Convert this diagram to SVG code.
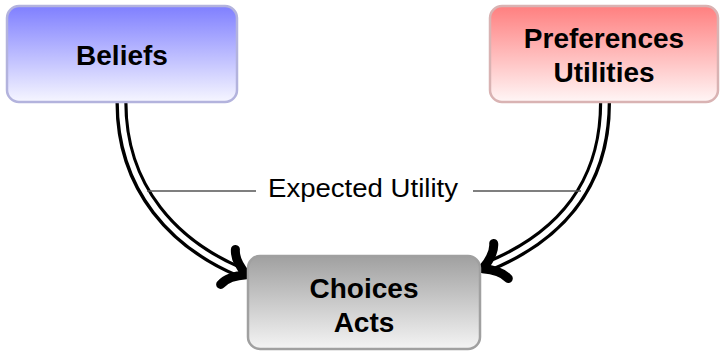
<svg xmlns="http://www.w3.org/2000/svg" width="720" height="352" viewBox="0 0 720 352">
  <defs>
    <linearGradient id="gBlue" x1="0" y1="0" x2="0" y2="1">
      <stop offset="0" stop-color="#7f7fff"/>
      <stop offset="1" stop-color="#f6f6ff"/>
    </linearGradient>
    <linearGradient id="gRed" x1="0" y1="0" x2="0" y2="1">
      <stop offset="0" stop-color="#ff7f7f"/>
      <stop offset="1" stop-color="#fff6f6"/>
    </linearGradient>
    <linearGradient id="gGray" x1="0" y1="0" x2="0" y2="1">
      <stop offset="0" stop-color="#a0a0a0"/>
      <stop offset="1" stop-color="#f4f4f4"/>
    </linearGradient>
    <!-- heavy curved arrowhead, tip pointing along +x, line end at origin -->
    <path id="head" d="M-13,-19 C-10,-10 -1,-4 7,0 C-1,4 -10,10 -13,19"
          fill="none" stroke="#000" stroke-width="9" stroke-linecap="round" stroke-linejoin="round"/>
  </defs>
  <style>
    .box { stroke-width: 2.5; }
    .label { font-family: "Liberation Sans", Arial, sans-serif; font-weight: bold; font-size: 28px; fill: #000; text-anchor: middle; }
    .outer { fill: none; stroke: #000; stroke-width: 12; }
    .inner { fill: none; stroke: #fff; stroke-width: 5.5; }
    .rule { stroke: #555; stroke-width: 1.3; }
    .note { font-family: "Liberation Sans", Arial, sans-serif; font-size: 25px; fill: #000; }
  </style>

  <!-- connectors: double-stroked arrows into the bottom node -->
  <g id="connectors">
    <path class="outer" d="M121.5,103 C121.5,190 176,245 240,272"/>
    <path class="inner" d="M121.5,101 C121.5,190 176,245 240,272"/>
    <use href="#head" transform="translate(240,272) rotate(22.9)"/>
    <path class="outer" d="M605,103 C605,190 554,239 489,266"/>
    <path class="inner" d="M605,101 C605,190 554,239 489,266"/>
    <use href="#head" transform="translate(489,266) rotate(157.4)"/>
    <line class="rule" x1="147" y1="191" x2="256" y2="191"/>
    <line class="rule" x1="473" y1="191" x2="581" y2="191"/>
    <text class="note" x="268" y="197" textLength="190" lengthAdjust="spacingAndGlyphs">Expected Utility</text>
  </g>

  <g id="beliefs">
    <rect class="box" x="7" y="6" width="230" height="96" rx="12" fill="url(#gBlue)" stroke="#b3b3dd"/>
    <text class="label" x="122" y="65">Beliefs</text>
  </g>

  <g id="preferences">
    <rect class="box" x="490" y="6" width="228" height="96" rx="12" fill="url(#gRed)" stroke="#d9b3b3"/>
    <text class="label" x="604" y="48">Preferences</text>
    <text class="label" x="604" y="82">Utilities</text>
  </g>

  <g id="choices">
    <rect class="box" x="248" y="256" width="232" height="93" rx="12" fill="url(#gGray)" stroke="#a0a0a0"/>
    <text class="label" x="364" y="298">Choices</text>
    <text class="label" x="364" y="332">Acts</text>
  </g>
</svg>
